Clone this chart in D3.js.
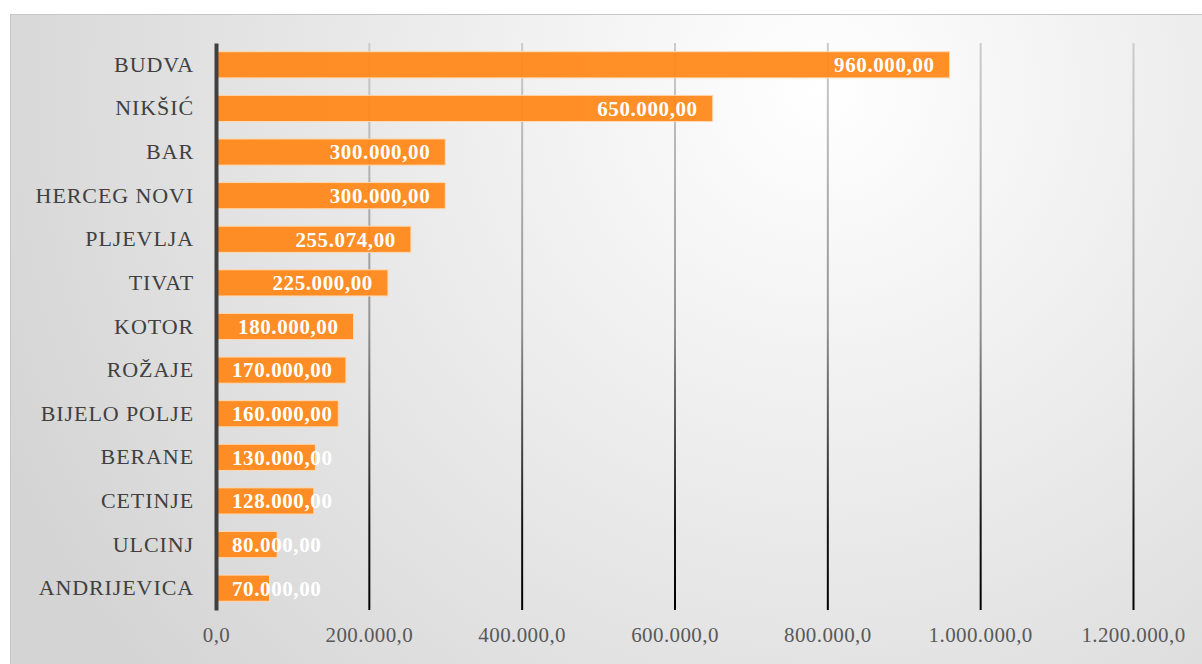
<!DOCTYPE html>
<html>
<head>
<meta charset="utf-8">
<script src="https://cdn.jsdelivr.net/npm/d3@7"></script>
<style>
  html, body { margin: 0; padding: 0; background: #fff; }
  svg { display: block; }
  svg text { font-family: "Liberation Serif", "DejaVu Serif", serif; }
</style>
</head>
<body>
<div id="chart"></div>
<script>
// data
const cities = ["BUDVA", "NIKŠIĆ", "BAR", "HERCEG NOVI", "PLJEVLJA", "TIVAT", "KOTOR",
  "ROŽAJE", "BIJELO POLJE", "BERANE", "CETINJE", "ULCINJ", "ANDRIJEVICA"];
const amounts = [960000, 650000, 300000, 300000, 255074, 225000, 180000,
  170000, 160000, 130000, 128000, 80000, 70000];
const tickValues = [0, 200000, 400000, 600000, 800000, 1000000, 1200000];

const width = 1202, height = 664;
const margin = { left: 216, top: 43, right: 69, bottom: 54 };
const plotH = height - margin.bottom - margin.top;
const serif = "Liberation Serif, DejaVu Serif, serif";

const svg = d3.select("#chart").append("svg")
  .attr("width", width)
  .attr("height", height)
  .attr("font-family", serif);

//#region background
const defs = svg.append("defs");
const bg = defs.append("radialGradient")
  .attr("id", "bg")
  .attr("gradientUnits", "userSpaceOnUse")
  .attr("cx", 820).attr("cy", 90).attr("r", 900);
bg.append("stop").attr("offset", "0%").attr("stop-color", "#ffffff");
bg.append("stop").attr("offset", "100%").attr("stop-color", "#d4d4d4");

// gridlines fade from light grey at the top to black at the bottom
// (coords are in the x-axis group's space, so the plot spans -plotH..0)
const grid = defs.append("linearGradient")
  .attr("id", "gridGrad")
  .attr("gradientUnits", "userSpaceOnUse")
  .attr("x1", 0).attr("y1", -plotH)
  .attr("x2", 0).attr("y2", 0);
grid.append("stop").attr("offset", "0%").attr("stop-color", "#cccccc");
grid.append("stop").attr("offset", "50%").attr("stop-color", "#939393");
grid.append("stop").attr("offset", "85%").attr("stop-color", "#151515");
grid.append("stop").attr("offset", "100%").attr("stop-color", "#000000");

svg.append("rect")
  .attr("x", 10.5).attr("y", 14.5)
  .attr("width", 1200).attr("height", 660)
  .attr("fill", "url(#bg)")
  .attr("stroke", "#c6c6c6");
//#endregion

//#region scales
const x = d3.scaleLinear()
  .domain([0, 1200000])
  .range([margin.left, width - margin.right]);
const y = d3.scaleBand()
  .domain(cities)
  .range([margin.top, height - margin.bottom])
  .paddingInner(0.4)
  .paddingOuter(0.2);
const fmt = d3.formatLocale({ decimal: ",", thousands: ".", grouping: [3], currency: ["", ""] });
//#endregion

//#region gridlines + x axis
const axisX = d3.axisBottom(x)
  .tickValues(tickValues)
  .tickSize(-plotH)
  .tickFormat(fmt.format(",.1f"));

const gx = svg.append("g")
  .attr("transform", `translate(0,${height - margin.bottom})`)
  .call(axisX)
  .attr("font-family", serif);
gx.select(".domain").remove();
gx.selectAll(".tick line")
  .attr("stroke", "url(#gridGrad)")
  .attr("stroke-width", 2)
  .filter(d => d === 0).remove();
gx.selectAll(".tick text")
  .attr("dy", 0)
  .attr("y", 32)
  .style("font-size", "21px")
  .style("letter-spacing", "0.4px")
  .style("fill", "#595959");
//#endregion

//#region bars
svg.selectAll("rect.bar")
  .data(cities)
  .enter()
  .append("rect")
  .attr("class", "bar")
  .attr("x", x(0))
  .attr("y", d => y(d))
  .attr("width", (d, i) => x(amounts[i]) - x(0))
  .attr("height", y.bandwidth())
  .attr("fill", "#ff8614")
  .attr("fill-opacity", 0.92)
  .attr("stroke", "#ffd9b3")
  .attr("stroke-width", 1);
//#endregion

//#region category axis
const axisY = d3.axisLeft(y).tickSize(0).tickPadding(22);
const gy = svg.append("g")
  .attr("transform", `translate(${margin.left},0)`)
  .call(axisY)
  .attr("font-family", serif);
gy.select(".domain")
  .attr("stroke", "#404040")
  .attr("stroke-width", 4);
gy.selectAll(".tick text")
  .style("font-size", "22px")
  .style("letter-spacing", "0.9px")
  .style("fill", "#404040");
//#endregion

//#region data labels
const labels = svg.selectAll("text.val")
  .data(cities)
  .enter()
  .append("text")
  .attr("class", "val")
  .text((d, i) => fmt.format(",.2f")(amounts[i]))
  .attr("y", d => y(d) + y.bandwidth() / 2)
  .attr("dy", "0.35em")
  .style("font-weight", "bold")
  .style("font-size", "21px")
  .style("letter-spacing", "0.6px")
  .style("fill", "#ffffff");

labels.attr("x", function (d, i) {
  const w = this.getComputedTextLength();
  const end = x(amounts[i]) - 15;
  return Math.max(end - w, x(0) + 16);
});
//#endregion
</script>
</body>
</html>
